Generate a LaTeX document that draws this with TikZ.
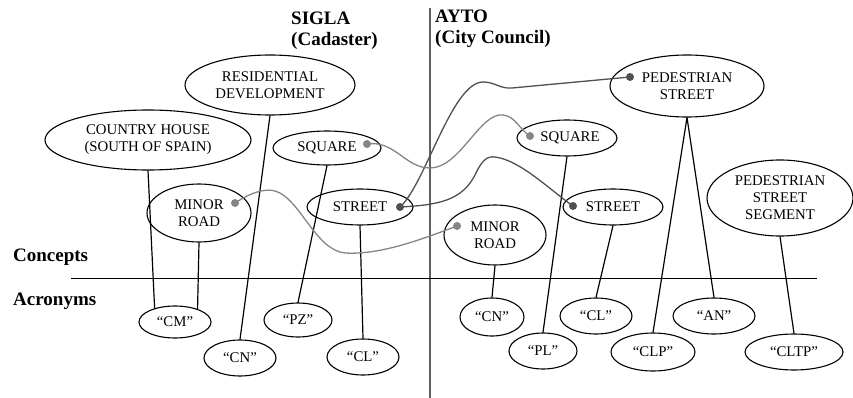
\documentclass[tikz,border=0pt]{standalone}
\usepackage{fontspec}
\setmainfont{Liberation Serif}
\usetikzlibrary{shapes.geometric}
\definecolor{tiedark}{HTML}{505050}
\definecolor{tielight}{HTML}{858585}
\definecolor{axisgray}{HTML}{606060}
\begin{document}
\begin{tikzpicture}[x=1pt,y=-1pt,
  oval/.style={draw, ellipse, line width=1.1pt, inner sep=0pt, align=center,
    font=\fontsize{14.8}{17}\selectfont},
  head/.style={anchor=base west, inner sep=0pt, font=\fontsize{19}{22}\selectfont\bfseries},
  link/.style={line width=1.2pt},
  tiedk/.style={line width=1.3pt, draw=tiedark},
  tielt/.style={line width=1.3pt, draw=tielight},
  dotdk/.style={circle, fill=tiedark, inner sep=0pt, minimum size=8pt},
  dotlt/.style={circle, fill=tielight, inner sep=0pt, minimum size=8pt}]
\useasboundingbox (0,0) rectangle (853,398);

% dividing axes
\coordinate (vtop) at (430,8);
\coordinate (vbot) at (430,398);
\coordinate (hl) at (71,278);
\coordinate (hr) at (817,278);
\draw[line width=1.3pt, axisgray] (vtop) -- (vbot);
\draw[line width=0.9pt] (hl) -- (hr);

% headings
\node[head] (sigla) at (291,25) {SIGLA};
\node[head] (cad) at (291,46) {(Cadaster)};
\node[head] (ayto) at (435,23) {AYTO};
\node[head] (city) at (435,44) {(City Council)};
\node[head] (conc) at (13,261) {Concepts};
\node[head] (acr) at (13,305) {Acronyms};

% concepts, cadaster side
\node[oval, minimum width=170pt, minimum height=60pt] (res) at (270,85) {RESIDENTIAL\\DEVELOPMENT};
\node[oval, minimum width=206pt, minimum height=60pt] (ch) at (148,140) {COUNTRY HOUSE\\(SOUTH OF SPAIN)};
\node[oval, minimum width=108pt, minimum height=34pt] (sqL) at (327,148) {SQUARE};
\node[oval, minimum width=104pt, minimum height=58pt] (mrL) at (199,213) {MINOR\\ROAD};
\node[oval, minimum width=106pt, minimum height=36pt] (stL) at (360,207) {STREET};

% concepts, city council side
\node[oval, minimum width=100pt, minimum height=36pt] (sqR) at (567,138) {\hspace*{6pt}SQUARE};
\node[oval, minimum width=154pt, minimum height=62pt] (ped) at (687,86) {PEDESTRIAN\\STREET};
\node[oval, minimum width=100pt, minimum height=36pt] (stR) at (613,207) {STREET};
\node[oval, minimum width=102pt, minimum height=60pt] (mrR) at (495,235) {MINOR\\ROAD};
\node[oval, minimum width=146pt, minimum height=76pt] (pss) at (780,198) {PEDESTRIAN\\STREET\\SEGMENT};

% acronyms
\node[oval, minimum width=72pt, minimum height=32pt] (cm) at (175,322) {“CM”};
\node[oval, minimum width=72pt, minimum height=36pt] (cnL) at (240,358) {“CN”};
\node[oval, minimum width=68pt, minimum height=34pt] (pz) at (298,320) {“PZ”};
\node[oval, minimum width=72pt, minimum height=36pt] (clL) at (363,357) {“CL”};
\node[oval, minimum width=64pt, minimum height=38pt] (cnR) at (492,317) {“CN”};
\node[oval, minimum width=68pt, minimum height=36pt] (pl) at (543,351) {“PL”};
\node[oval, minimum width=72pt, minimum height=36pt] (clR) at (596,316) {“CL”};
\node[oval, minimum width=84pt, minimum height=38pt] (clp) at (653,352) {“CLP”};
\node[oval, minimum width=82pt, minimum height=36pt] (an) at (714,316) {“AN”};
\node[oval, minimum width=98pt, minimum height=36pt] (cltp) at (794,352) {“CLTP”};

% concept to acronym links
\draw[link] (ch.south) -- (cm.146);
\draw[link] (mrL.south) -- (cm.30);
\draw[link] (res.south) -- (cnL.north);
\draw[link] (sqL.south) -- (pz.north);
\draw[link] (stL.south) -- (clL.north);
\draw[link] (mrR.south) -- (cnR.north);
\draw[link] (sqR.south) -- (pl.north);
\draw[link] (stR.south) -- (clR.north);
\draw[link] (ped.south) -- (clp.north);
\draw[link] (ped.south) -- (an.north);
\draw[link] (pss.south) -- (cltp.north);

% correspondence points
\coordinate (pSqL) at (367,144);
\coordinate (pStL) at (400,207);
\coordinate (pMrL) at (235,203);
\coordinate (pSqR) at (530,136);
\coordinate (pPed) at (630,77);
\coordinate (pStR) at (573,206);
\coordinate (pMrR) at (457,226);

% correspondences between the two vocabularies
\draw[tiedk] (pStL) .. controls (425,185) and (452,82) .. (483,82)
  .. controls (495,82) and (500,89) .. (512,88) -- (pPed);
\draw[tielt] (pSqL) .. controls (395,140) and (405,168) .. (430,168)
  .. controls (460,168) and (480,112) .. (503,115)
  .. controls (515,116) and (520,130) .. (pSqR);
\draw[tiedk] (pStL) .. controls (440,205) and (462,200) .. (475,175)
  .. controls (482,160) and (487,156) .. (495,157)
  .. controls (520,160) and (550,190) .. (pStR);
\draw[tielt] (pMrL) .. controls (250,193) and (265,188) .. (275,191)
  .. controls (300,198) and (315,250) .. (345,253)
  .. controls (380,255) and (420,240) .. (pMrR);

\node[dotlt] (dSqL) at (pSqL) {};
\node[dotdk] (dStL) at (pStL) {};
\node[dotlt] (dMrL) at (pMrL) {};
\node[dotlt] (dSqR) at (pSqR) {};
\node[dotdk] (dPed) at (pPed) {};
\node[dotdk] (dStR) at (pStR) {};
\node[dotlt] (dMrR) at (pMrR) {};
\end{tikzpicture}
\end{document}
